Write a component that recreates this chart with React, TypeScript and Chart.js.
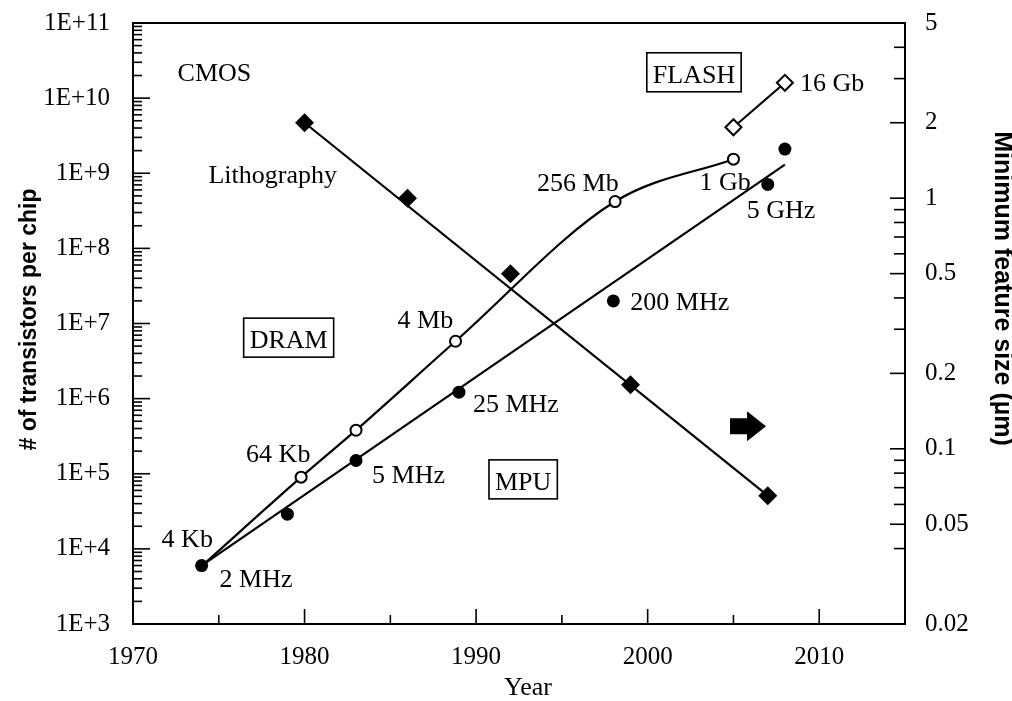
import { useEffect, useRef } from 'react';
import { Chart, registerables } from 'chart.js';

Chart.register(...registerables);

// ---- data ----
const DRAM_YEARS = [1974, 1979.8, 1983, 1988.8, 1998.1, 2005];
const DRAM_BITS = [5.9e3, 9.0e4, 3.8e5, 5.8e6, 4.2e8, 1.54e9];
const DRAM_LABELS = ['4 Kb', '64 Kb', '', '4 Mb', '256 Mb', '1 Gb'];

const MPU_YEARS = [1974, 1979, 1983, 1989, 1998, 2007, 2008];
const MPU_TRANSISTORS = [6.0e3, 2.9e4, 1.5e5, 1.22e6, 2.0e7, 7.1e8, 2.1e9];
const MPU_LABELS = ['2 MHz', '', '5 MHz', '25 MHz', '200 MHz', '5 GHz', ''];
const MPU_TREND_YEARS = [1974, 2008];
const MPU_TREND_VALUES = [6.0e3, 1.3e9];

const LITHO_YEARS = [1980, 1986, 1992, 1999, 2007];
const LITHO_SIZE_UM = [2.0, 1.0, 0.5, 0.18, 0.065];
const LITHO_TREND_YEARS = [1980, 2007];
const LITHO_TREND_UM = [2.0, 0.065];

const FLASH_YEARS = [2005, 2008];
const FLASH_BITS = [4.1e9, 1.6e10];
const FLASH_LABELS = ['', '16 Gb'];

// ---- axes ----
const YEAR_TICKS = [1970, 1980, 1990, 2000, 2010];
const YEAR_MINOR = [1975, 1985, 1995, 2005];
const COUNT_TICKS = [1e3, 1e4, 1e5, 1e6, 1e7, 1e8, 1e9, 1e10, 1e11];
const COUNT_TICK_LABELS = ['1E+3', '1E+4', '1E+5', '1E+6', '1E+7', '1E+8', '1E+9', '1E+10', '1E+11'];
const COUNT_MINOR_MULTIPLES = [2, 3, 4, 5, 6, 7, 8, 9];
const SIZE_TICKS = [0.02, 0.05, 0.1, 0.2, 0.5, 1, 2, 5];
const SIZE_TICK_LABELS = ['0.02', '0.05', '0.1', '0.2', '0.5', '1', '2', '5'];
const SIZE_MINOR = [0.04, 0.06, 0.07, 0.08, 0.09, 0.3, 0.4, 0.6, 0.7, 0.8, 0.9, 3, 4];

// free-standing notes, anchored in (year, transistor count) space
const NOTES = [
  { text: 'CMOS', year: 1972.6, count: 1.7e10, boxed: false },
  { text: 'Lithography', year: 1974.4, count: 7.4e8, boxed: false },
  { text: 'FLASH', year: 2000.3, count: 1.6e10, boxed: true },
  { text: 'DRAM', year: 1976.8, count: 4.7e6, boxed: true },
  { text: 'MPU', year: 1991.1, count: 6.1e4, boxed: true },
];
const ARROW_AT = { year: 2006.9, count: 4.3e5 };

// pixel offsets of point labels from their marker (left / baseline of text)
const LABEL_OFFSETS: Record<string, [number, number]> = {
  '4 Kb': [-40, -19],
  '64 Kb': [-55, -15],
  '4 Mb': [-58, -13],
  '256 Mb': [-78, -11],
  '1 Gb': [-34, 31],
  '2 MHz': [18, 21],
  '5 MHz': [16, 22],
  '25 MHz': [14, 20],
  '200 MHz': [17, 9],
  '5 GHz': [-21, 34],
  '16 Gb': [15, 8],
};

const SERIF = '"Liberation Serif", "Times New Roman", serif';
const SANS = '"Liberation Sans", Arial, sans-serif';

const pts = (xs: number[], ys: number[]) => xs.map((x, i) => ({ x, y: ys[i] }));

const decorations = {
  id: 'decorations',
  afterDatasetsDraw(chart: any) {
    const { ctx, chartArea } = chart;
    const { left, right, top, bottom } = chartArea;
    const xs = chart.scales.x;
    const yl = chart.scales.y;
    const yr = chart.scales.y1;
    ctx.save();
    ctx.strokeStyle = '#000';
    ctx.fillStyle = '#000';

    // frame
    ctx.lineWidth = 2;
    ctx.strokeRect(left, top, right - left, bottom - top);

    // tick marks (inward)
    ctx.lineWidth = 1.6;
    const hTick = (px: number, py: number, len: number) => {
      ctx.beginPath();
      ctx.moveTo(px, py);
      ctx.lineTo(px + len, py);
      ctx.stroke();
    };
    const vTick = (px: number, py: number, len: number) => {
      ctx.beginPath();
      ctx.moveTo(px, py);
      ctx.lineTo(px, py - len);
      ctx.stroke();
    };
    COUNT_TICKS.forEach((v) => hTick(left, yl.getPixelForValue(v), 17));
    COUNT_TICKS.slice(0, -1).forEach((d) =>
      COUNT_MINOR_MULTIPLES.forEach((m) => hTick(left, yl.getPixelForValue(d * m), 9))
    );
    SIZE_TICKS.forEach((v) => hTick(right, yr.getPixelForValue(v), -15));
    SIZE_MINOR.forEach((v) => hTick(right, yr.getPixelForValue(v), -11));
    YEAR_TICKS.forEach((v) => vTick(xs.getPixelForValue(v), bottom, 15));
    YEAR_MINOR.forEach((v) => vTick(xs.getPixelForValue(v), bottom, 9));

    // point labels
    ctx.font = `26px ${SERIF}`;
    ctx.textAlign = 'left';
    ctx.textBaseline = 'alphabetic';
    const labelSet = (datasetIndex: number, labels: string[]) => {
      const meta = chart.getDatasetMeta(datasetIndex);
      labels.forEach((t, i) => {
        if (!t) return;
        const el = meta.data[i];
        const [dx, dy] = LABEL_OFFSETS[t] || [8, 8];
        ctx.fillText(t, el.x + dx, el.y + dy);
      });
    };
    labelSet(0, DRAM_LABELS);
    labelSet(2, MPU_LABELS);
    labelSet(5, FLASH_LABELS);

    // notes
    NOTES.forEach((n) => {
      const px = xs.getPixelForValue(n.year);
      const py = yl.getPixelForValue(n.count);
      ctx.fillText(n.text, px, py);
      if (n.boxed) {
        const w = ctx.measureText(n.text).width;
        ctx.lineWidth = 1.6;
        ctx.strokeRect(px - 6, py - 30, w + 12, 39);
      }
    });

    // block arrow
    const ax = xs.getPixelForValue(ARROW_AT.year);
    const ay = yl.getPixelForValue(ARROW_AT.count);
    ctx.beginPath();
    ctx.moveTo(ax, ay);
    ctx.lineTo(ax - 19, ay - 15);
    ctx.lineTo(ax - 19, ay - 8);
    ctx.lineTo(ax - 36, ay - 8);
    ctx.lineTo(ax - 36, ay + 8);
    ctx.lineTo(ax - 19, ay + 8);
    ctx.lineTo(ax - 19, ay + 15);
    ctx.closePath();
    ctx.fill();

    // axis titles
    ctx.textAlign = 'center';
    ctx.textBaseline = 'middle';
    ctx.font = `26px ${SERIF}`;
    ctx.fillText('Year', (left + right) / 2 + 9, bottom + 64);

    ctx.save();
    ctx.translate(left - 103, (top + bottom) / 2 - 4);
    ctx.rotate(-Math.PI / 2);
    ctx.font = `bold 23px ${SANS}`;
    ctx.fillText('# of transistors per chip', 0, 0);
    ctx.restore();

    ctx.save();
    ctx.translate(right + 97, (top + bottom) / 2 - 35);
    ctx.rotate(Math.PI / 2);
    ctx.font = `bold 25px ${SANS}`;
    ctx.fillText('Minimum feature size (\u00b5m)', 0, 0);
    ctx.restore();

    ctx.restore();
  },
};

// keep tick-label overhang from shrinking the plot area
const noOverhang = (s: any) => {
  s.paddingTop = 0;
  s.paddingBottom = 0;
  s.paddingLeft = 0;
  s.paddingRight = 0;
};

export default function App() {
  const canvasRef = useRef<HTMLCanvasElement | null>(null);

  useEffect(() => {
    const canvas = canvasRef.current;
    if (!canvas) return;
    const black = '#000';
    const chart = new Chart(canvas, {
      type: 'line',
      data: {
        datasets: [
          {
            label: 'DRAM',
            data: pts(DRAM_YEARS, DRAM_BITS),
            yAxisID: 'y',
            borderColor: black,
            borderWidth: 2.2,
            cubicInterpolationMode: 'monotone',
            pointRadius: DRAM_YEARS.map((_, i) => (i === 0 ? 0 : 5.5)),
            pointBackgroundColor: '#fff',
            pointBorderColor: black,
            pointBorderWidth: 2,
            order: 3,
          },
          {
            label: 'MPU trend',
            data: pts(MPU_TREND_YEARS, MPU_TREND_VALUES),
            yAxisID: 'y',
            borderColor: black,
            borderWidth: 2.2,
            pointRadius: 0,
            order: 4,
          },
          {
            label: 'MPU',
            data: pts(MPU_YEARS, MPU_TRANSISTORS),
            yAxisID: 'y',
            showLine: false,
            pointRadius: 6.5,
            pointBackgroundColor: black,
            pointBorderColor: black,
            pointBorderWidth: 0,
            order: 1,
          },
          {
            label: 'Lithography trend',
            data: pts(LITHO_TREND_YEARS, LITHO_TREND_UM),
            yAxisID: 'y1',
            borderColor: black,
            borderWidth: 2.2,
            pointRadius: 0,
            order: 4,
          },
          {
            label: 'Lithography',
            data: pts(LITHO_YEARS, LITHO_SIZE_UM),
            yAxisID: 'y1',
            showLine: false,
            pointStyle: 'rectRot',
            pointRadius: 9.5,
            pointBackgroundColor: black,
            pointBorderColor: black,
            pointBorderWidth: 0,
            order: 1,
          },
          {
            label: 'FLASH',
            data: pts(FLASH_YEARS, FLASH_BITS),
            yAxisID: 'y',
            borderColor: black,
            borderWidth: 2.2,
            pointStyle: 'rectRot',
            pointRadius: 8,
            pointBackgroundColor: '#fff',
            pointBorderColor: black,
            pointBorderWidth: 2,
            order: 2,
          },
        ],
      },
      options: {
        responsive: false,
        animation: false,
        devicePixelRatio: 1,
        layout: { padding: { top: 23, left: 0, right: 0, bottom: 0 } },
        plugins: {
          legend: { display: false },
          tooltip: { enabled: false },
        },
        scales: {
          x: {
            type: 'linear',
            position: 'bottom',
            min: 1970,
            max: 2015,
            grid: { display: false },
            border: { display: false },
            afterBuildTicks: (s: any) => {
              s.ticks = YEAR_TICKS.map((value) => ({ value }));
            },
            afterFit: (s: any) => {
              s.height = 77;
              noOverhang(s);
            },
            ticks: {
              padding: 10,
              color: black,
              font: { family: SERIF, size: 25 },
              callback: (v: any) => String(v),
            },
          },
          y: {
            type: 'logarithmic',
            position: 'left',
            min: 1e3,
            max: 1e11,
            grid: { display: false },
            border: { display: false },
            afterBuildTicks: (s: any) => {
              s.ticks = COUNT_TICKS.map((value) => ({ value }));
            },
            afterFit: (s: any) => {
              s.width = 133;
              noOverhang(s);
            },
            ticks: {
              padding: 15,
              color: black,
              font: { family: SERIF, size: 25 },
              callback: (v: any) => COUNT_TICK_LABELS[COUNT_TICKS.indexOf(Number(v))] ?? '',
            },
          },
          y1: {
            type: 'logarithmic',
            position: 'right',
            min: 0.02,
            max: 5,
            grid: { display: false },
            border: { display: false },
            afterBuildTicks: (s: any) => {
              s.ticks = SIZE_TICKS.map((value) => ({ value }));
            },
            afterFit: (s: any) => {
              s.width = 107;
              noOverhang(s);
            },
            ticks: {
              padding: 12,
              color: black,
              font: { family: SERIF, size: 25 },
              callback: (v: any) => SIZE_TICK_LABELS[SIZE_TICKS.indexOf(Number(v))] ?? '',
            },
          },
        },
      },
      plugins: [decorations],
    } as any);
    return () => chart.destroy();
  }, []);

  return (
    <div style={{ position: 'absolute', left: 0, top: 0, width: 1012, height: 701, background: '#fff' }}>
      <canvas ref={canvasRef} width={1012} height={701} style={{ display: 'block' }} />
    </div>
  );
}
